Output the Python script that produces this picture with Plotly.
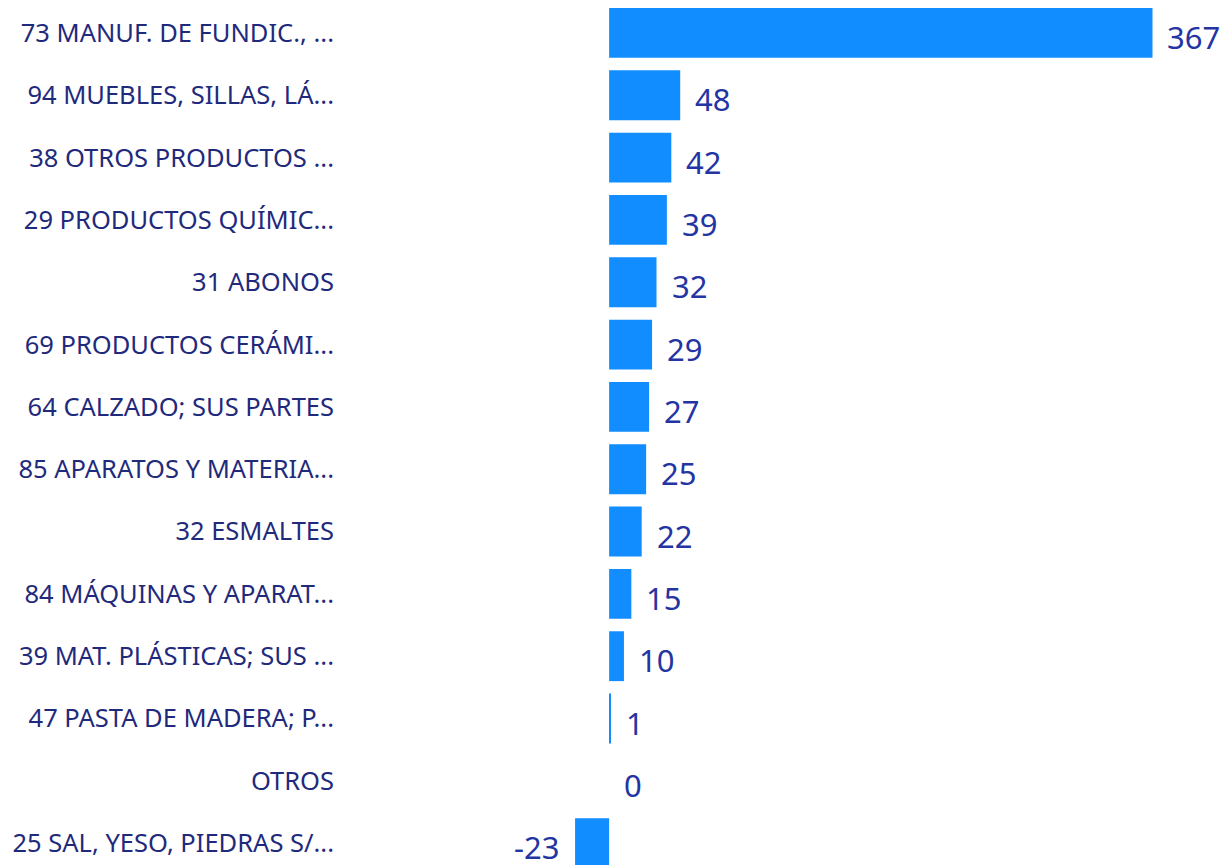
import plotly.graph_objects as go

categories = [
    "73 MANUF. DE FUNDIC., ...",
    "94 MUEBLES, SILLAS, LÁ...",
    "38 OTROS PRODUCTOS ...",
    "29 PRODUCTOS QUÍMIC...",
    "31 ABONOS",
    "69 PRODUCTOS CERÁMI...",
    "64 CALZADO; SUS PARTES",
    "85 APARATOS Y MATERIA...",
    "32 ESMALTES",
    "84 MÁQUINAS Y APARAT...",
    "39 MAT. PLÁSTICAS; SUS ...",
    "47 PASTA DE MADERA; P...",
    "OTROS",
    "25 SAL, YESO, PIEDRAS S/...",
]
values = [367, 48, 42, 39, 32, 29, 27, 25, 22, 15, 10, 1, 0, -23]

bar_color = "#118DFF"
label_color = "#1F2A7C"
value_color = "#2434A3"

fig = go.Figure()
fig.add_trace(go.Bar(
    y=categories,
    x=values,
    orientation="h",
    marker=dict(color=bar_color, line=dict(width=0)),
    width=0.8,
    hoverinfo="x+y",
))

for c, v in zip(categories, values):
    fig.add_annotation(
        x=v, y=c, xref="x", yref="y",
        text=str(v), showarrow=False,
        xanchor="right" if v < 0 else "left",
        xshift=-14 if v < 0 else 13,
        yshift=-4,
        font=dict(family="Noto Sans", size=31, color=value_color),
    )

fig.update_layout(
    width=1220, height=857,
    margin=dict(l=337, r=0, t=0, b=0),
    plot_bgcolor="white", paper_bgcolor="white",
    showlegend=False,
    bargap=0.2,
    font=dict(family="Noto Sans", color=label_color),
)
fig.update_xaxes(range=[-178.4, 418], visible=False, showgrid=False, zeroline=False)
fig.update_yaxes(
    categoryorder="array", categoryarray=categories,
    range=[13.35, -0.40],
    showgrid=False, zeroline=False, showline=False, ticks="",
    ticklabelstandoff=10,
    tickfont=dict(family="Noto Sans", size=25.5, color=label_color),
)

fig.write_html("out.html")
